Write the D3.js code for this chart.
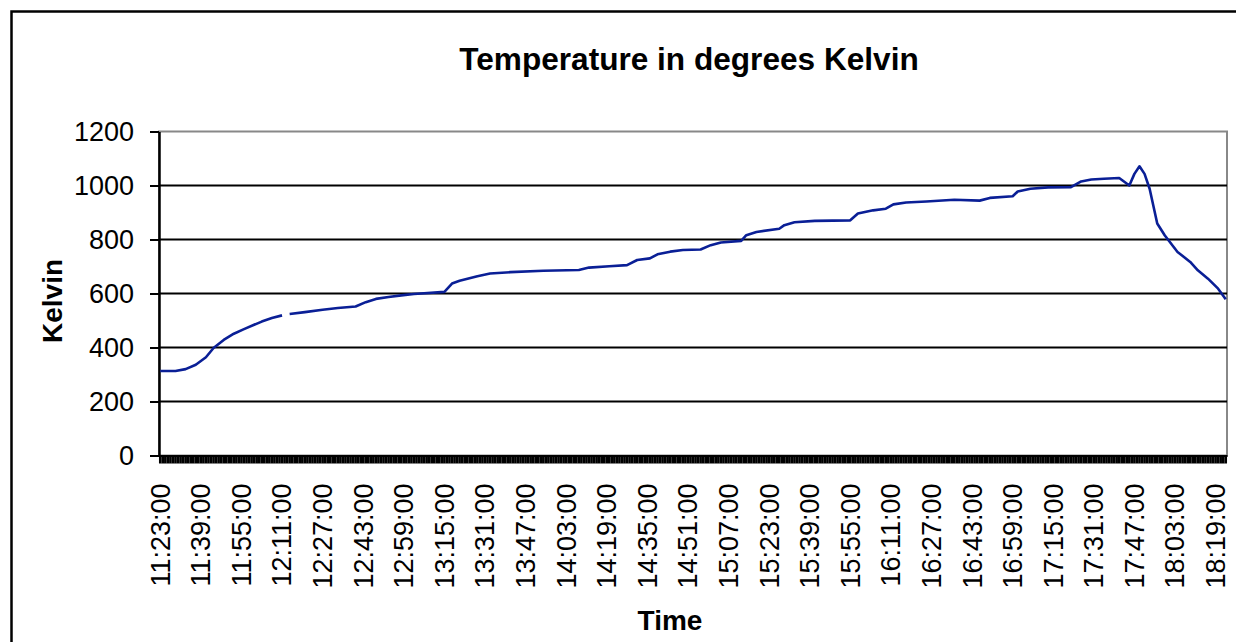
<!DOCTYPE html>
<html>
<head>
<meta charset="utf-8">
<script src="https://cdn.jsdelivr.net/npm/d3@7/dist/d3.min.js"></script>
<style>
  body { margin: 0; background: #fff; }
  svg { display: block; }
  text { font-family: "Liberation Sans", Arial, sans-serif; fill: #000; }
</style>
</head>
<body>
<div id="graph"></div>
<script>
'use strict';

// readings (time of reading, temperature in K); null = missing reading
const times = [
  '11:23:00', '11:29:00', '11:33:00', '11:37:00', '11:41:00', '11:44:00', '11:48:00', '11:52:00',
  '11:56:00', '12:00:00', '12:03:00', '12:07:00', '12:11:00', '12:12:00', '12:14:00', '12:20:00',
  '12:27:00', '12:33:00', '12:40:00', '12:44:00', '12:48:00', '12:53:00', '12:58:00', '13:03:00',
  '13:15:00', '13:18:00', '13:21:00', '13:28:00', '13:33:00', '13:41:00', '13:54:00', '14:08:00',
  '14:12:00', '14:20:00', '14:27:00', '14:31:00', '14:36:00', '14:39:00', '14:44:00', '14:49:00',
  '14:56:00', '15:00:00', '15:04:00', '15:12:00', '15:14:00', '15:18:00', '15:27:00', '15:29:00',
  '15:33:00', '15:41:00', '15:55:00', '15:58:00', '16:04:00', '16:09:00', '16:12:00', '16:17:00',
  '16:25:00', '16:36:00', '16:46:00', '16:50:00', '16:59:00', '17:01:00', '17:06:00', '17:13:00',
  '17:22:00', '17:26:00', '17:30:00', '17:35:00', '17:41:00', '17:45:00', '17:47:00', '17:49:00',
  '17:51:00', '17:53:00', '17:56:00', '17:59:00', '18:04:00', '18:09:00', '18:12:00', '18:16:00',
  '18:20:00', '18:23:00'
];
const kelvin = [
  313, 313, 320, 336, 364, 398, 428, 451,
  468, 484, 496, 509, 519, null, 524, 531,
  540, 546, 552, 568, 580, 587, 593, 598,
  606, 637, 647, 664, 674, 679, 684, 687,
  696, 701, 705, 724, 730, 745, 755, 761,
  763, 779, 789, 795, 816, 828, 840, 853,
  864, 869, 871, 896, 908, 914, 930, 937,
  941, 947, 944, 954, 960, 978, 988, 993,
  994, 1015, 1022, 1025, 1028, 1000, 1043, 1071,
  1043, 988, 859, 815, 754, 717, 686, 655,
  618, 579
];

const tickLabels = [
  '11:23:00', '11:39:00', '11:55:00', '12:11:00', '12:27:00', '12:43:00', '12:59:00',
  '13:15:00', '13:31:00', '13:47:00', '14:03:00', '14:19:00', '14:35:00', '14:51:00',
  '15:07:00', '15:23:00', '15:39:00', '15:55:00', '16:11:00', '16:27:00', '16:43:00',
  '16:59:00', '17:15:00', '17:31:00', '17:47:00', '18:03:00', '18:19:00'
];
const yTicks = [0, 200, 400, 600, 800, 1000, 1200];

// one category per minute, 11:23 .. 18:23
const firstMin = 11 * 60 + 23, lastMin = 18 * 60 + 23;
const pad2 = (n) => String(n).padStart(2, '0');
const categories = d3.range(firstMin, lastMin + 1)
  .map((m) => pad2(Math.floor(m / 60)) + ':' + pad2(m % 60) + ':00');

var W = 1236, H = 642,
    padl = 159, padt = 131.5, padr = 1227, padb = 455.5,
    x = d3.scaleBand().domain(categories).range([padl, padr]),
    y = d3.scaleLinear().domain([0, 1200]).range([padb, padt]);

var svg = d3.select('#graph').append('svg')
    .attr('width', W)
    .attr('height', H);

// chart border
svg.append('rect')
  .attr('x', 11.5).attr('y', 11.5)
  .attr('width', W + 20).attr('height', H + 20)
  .attr('fill', '#fff')
  .attr('stroke', '#000')
  .attr('stroke-width', 2.5);

// plot area frame (grey)
svg.append('rect')
  .attr('x', padl).attr('y', padt)
  .attr('width', padr - padl).attr('height', padb - padt)
  .attr('fill', '#fff')
  .attr('stroke', '#888')
  .attr('stroke-width', 2);

// gridlines
svg.append('g').selectAll('line')
  .data(yTicks.filter((d) => d > 0 && d < 1200))
  .enter().append('line')
  .attr('x1', padl).attr('x2', padr)
  .attr('y1', (d) => y(d)).attr('y2', (d) => y(d))
  .attr('stroke', '#000')
  .attr('stroke-width', 2);

// y axis
var yAxis = svg.append('g')
  .attr('transform', 'translate(' + padl + ',0)')
  .call(d3.axisLeft(y).tickValues(yTicks).tickFormat(d3.format('d'))
    .tickSize(9).tickPadding(16).tickSizeOuter(0));
yAxis.select('.domain').attr('stroke', '#000').attr('stroke-width', 2.5);
yAxis.selectAll('.tick line').attr('stroke', '#000').attr('stroke-width', 2);
yAxis.selectAll('.tick text')
  .attr('font-size', 27)
  .attr('font-family', '"Liberation Sans", Arial, sans-serif');

// x axis: a tick mark for every minute
var xTicks = svg.append('g')
  .attr('transform', 'translate(0,' + padb + ')')
  .call(d3.axisBottom(x).tickValues(categories).tickSize(8).tickFormat('').tickSizeOuter(0));
xTicks.select('.domain').attr('stroke', '#000').attr('stroke-width', 2);
xTicks.selectAll('.tick line').attr('stroke', '#000').attr('stroke-width', 2.6);

// x labels every 16 minutes
var xLabels = svg.append('g')
  .attr('transform', 'translate(0,' + padb + ')')
  .call(d3.axisBottom(x).tickValues(tickLabels).tickSize(0).tickSizeOuter(0));
xLabels.select('.domain').remove();
xLabels.selectAll('.tick text')
  .attr('font-size', 27)
  .attr('font-family', '"Liberation Sans", Arial, sans-serif')
  .attr('text-anchor', 'end')
  .attr('transform', 'rotate(-90)')
  .attr('x', -28)
  .attr('y', 0)
  .attr('dy', '0.35em');

// the series
var line = d3.line()
  .defined((d) => d.v != null)
  .x((d) => x(d.t) + x.bandwidth() / 2)
  .y((d) => y(d.v));

svg.append('path')
  .datum(times.map((t, i) => ({ t: t, v: kelvin[i] })))
  .attr('d', line)
  .attr('fill', 'none')
  .attr('stroke', '#0a1f96')
  .attr('stroke-width', 2.6)
  .attr('stroke-linejoin', 'round');

// titles
svg.append('text')
  .attr('x', 689).attr('y', 70)
  .attr('text-anchor', 'middle')
  .attr('font-size', 31.6)
  .attr('font-weight', 'bold')
  .text('Temperature in degrees Kelvin');

svg.append('text')
  .attr('transform', 'translate(62,301) rotate(-90)')
  .attr('text-anchor', 'middle')
  .attr('font-size', 28)
  .attr('font-weight', 'bold')
  .text('Kelvin');

svg.append('text')
  .attr('x', 670).attr('y', 630)
  .attr('text-anchor', 'middle')
  .attr('font-size', 28)
  .attr('font-weight', 'bold')
  .text('Time');
</script>
</body>
</html>
